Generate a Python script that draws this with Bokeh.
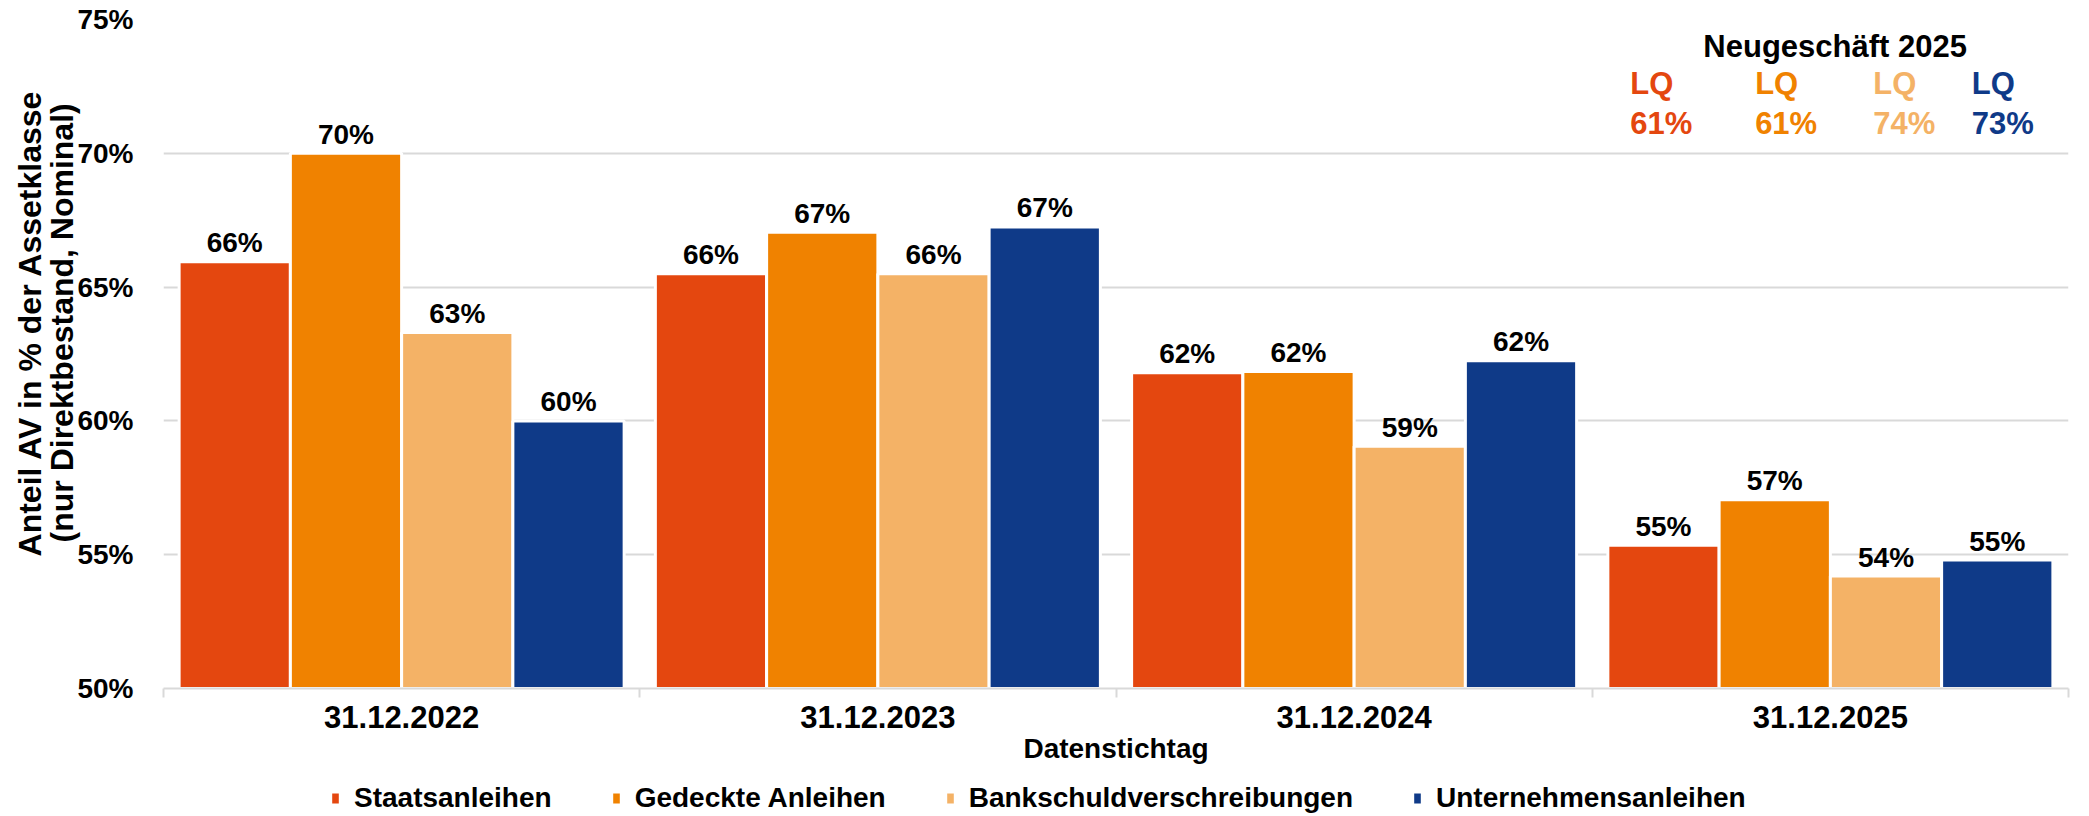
from bokeh.plotting import figure
from bokeh.layouts import column
from bokeh.models import (Range1d, FixedTicker, Label, Legend, LegendItem,
                          ColumnDataSource)
from bokeh.transform import dodge
from bokeh.core.properties import value
from bokeh.embed import file_html
from bokeh.resources import INLINE

# ---------------- data ----------------
categories = ["31.12.2022", "31.12.2023", "31.12.2024", "31.12.2025"]
series_names = ["Staatsanleihen", "Gedeckte Anleihen",
                "Bankschuldverschreibungen", "Unternehmensanleihen"]
staatsanleihen = [65.95, 65.5, 61.8, 55.35]
gedeckte_anleihen = [70.0, 67.05, 61.85, 57.05]
bankschuldverschreibungen = [63.3, 65.5, 59.05, 54.2]
unternehmensanleihen = [60.0, 67.25, 62.25, 54.8]
y_ticks = [50, 55, 60, 65, 70, 75]
y_title_lines = ["Anteil AV in % der Assetklasse", "(nur Direktbestand, Nominal)"]
x_title = "Datenstichtag"
neugeschaeft_title = "Neugeschäft 2025"
neugeschaeft_label = "LQ"
neugeschaeft_lq = [61, 61, 74, 73]

colors = ["#E4470F", "#F08200", "#F4B266", "#0F3A88"]
FONT = "Liberation Sans"
FS = "28px"
FS_CAT = "31px"
FS_NOTE = "31px"
FS_YTITLE = "32px"
GRID = "#D9D9D9"

values = [staatsanleihen, gedeckte_anleihen, bankschuldverschreibungen, unternehmensanleihen]

p = figure(width=2089, height=780, output_backend="svg", toolbar_location=None,
           x_range=Range1d(0, len(categories)), y_range=Range1d(y_ticks[0], y_ticks[-1]),
           min_border_left=163, min_border_right=21, min_border_top=19,
           min_border_bottom=92)
p.outline_line_color = None
p.background_fill_color = "white"

centers = [i + 0.5 for i in range(len(categories))]
slot = 0.2336
offsets = [(k - 1.5) * slot for k in range(4)]

sources = []
for name, vals, col, off in zip(series_names, values, colors, offsets):
    src = ColumnDataSource(dict(x=centers, top=vals,
                                lab=[f"{int(v + 0.5)}%" for v in vals]))
    sources.append(src)
    p.vbar(x=dodge("x", off, range=p.x_range), top="top", bottom=y_ticks[0],
           width=slot, source=src, fill_color=col, line_color="white",
           line_width=3)
    p.text(x=dodge("x", off, range=p.x_range), y="top", text="lab", source=src,
           text_align="center", text_baseline="alphabetic", y_offset=-19,
           text_font=value(FONT), text_font_style="bold", text_font_size=FS,
           text_color="black")

# grid
p.xgrid.grid_line_color = None
p.ygrid.grid_line_color = GRID
p.ygrid.grid_line_width = 2
p.ygrid.ticker = FixedTicker(ticks=y_ticks)

# y axis
yax = p.yaxis[0]
yax.ticker = FixedTicker(ticks=y_ticks)
yax.major_label_overrides = {t: f"{t}%" for t in y_ticks}
yax.axis_line_color = None
yax.major_tick_line_color = None
yax.major_tick_out = 0
yax.major_tick_in = 0
yax.minor_tick_line_color = None
yax.major_label_text_font = FONT
yax.major_label_text_font_style = "bold"
yax.major_label_text_font_size = FS
yax.major_label_text_color = "black"
yax.major_label_standoff = 30
pad = "\u00a0" * 7  # shifts the centred title slightly upwards
yax.axis_label = "\n".join(pad + line for line in y_title_lines)
yax.axis_label_text_font = FONT
yax.axis_label_text_font_style = "bold"
yax.axis_label_text_font_size = FS_YTITLE
yax.axis_label_text_line_height = 0.9
yax.axis_label_text_color = "black"
yax.axis_label_standoff = -6

# x axis
xax = p.xaxis[0]
xax.ticker = FixedTicker(ticks=centers, minor_ticks=list(range(len(categories) + 1)))
xax.major_label_overrides = {c: lab for c, lab in zip(centers, categories)}
xax.axis_line_color = GRID
xax.axis_line_width = 2
xax.major_tick_line_color = None
xax.major_tick_out = 0
xax.major_tick_in = 0
xax.minor_tick_line_color = GRID
xax.minor_tick_line_width = 2
xax.minor_tick_out = 9
xax.minor_tick_in = 0
xax.major_label_text_font = FONT
xax.major_label_text_font_style = "bold"
xax.major_label_text_font_size = FS_CAT
xax.major_label_text_color = "black"
xax.major_label_standoff = 8
xax.axis_label = x_title
xax.axis_label_text_font = FONT
xax.axis_label_text_font_style = "bold"
xax.axis_label_text_font_size = FS
xax.axis_label_text_color = "black"
xax.axis_label_standoff = 2

# Neugeschäft annotation (data units)
p.add_layout(Label(x=3.51, y=74.0, text=neugeschaeft_title,
                   text_align="center", text_baseline="middle",
                   text_font=FONT, text_font_style="bold", text_font_size=FS_NOTE,
                   text_color="black"))
lq_x = [3.08, 3.342, 3.59, 3.797]
for xx, lq, col in zip(lq_x, neugeschaeft_lq, colors):
    p.add_layout(Label(x=xx, y=72.6, text=neugeschaeft_label,
                       text_align="left", text_baseline="middle",
                       text_font=FONT, text_font_style="bold", text_font_size=FS_NOTE,
                       text_color=col))
    p.add_layout(Label(x=xx, y=71.12, text=f"{lq}%",
                       text_align="left", text_baseline="middle",
                       text_font=FONT, text_font_style="bold", text_font_size=FS_NOTE,
                       text_color=col))

# legend strip below the chart (its ranges lie outside the data, so only
# the legend swatches are visible)
pl = figure(width=2089, height=36, output_backend="svg", toolbar_location=None,
            x_range=Range1d(100, 101), y_range=Range1d(100, 101),
            x_axis_location=None, y_axis_location=None, min_border=0)
pl.outline_line_color = None
pl.grid.visible = False
items = []
for name, col, src in zip(series_names, colors, sources):
    r = pl.vbar(x="x", top="top", bottom=y_ticks[0], width=slot, source=src,
                fill_color=col, line_color="white", line_width=3)
    items.append(LegendItem(label=name, renderers=[r]))
legend = Legend(items=items, orientation="horizontal", location="left",
                label_text_font=FONT, label_text_font_style="bold",
                label_text_font_size=FS, label_text_color="black",
                glyph_width=12, glyph_height=16, label_standoff=13, spacing=58,
                padding=0, margin=166, border_line_color=None,
                background_fill_alpha=0)
pl.add_layout(legend)

layout = column(p, pl, spacing=0)
open("out.html", "w").write(file_html(layout, INLINE))
